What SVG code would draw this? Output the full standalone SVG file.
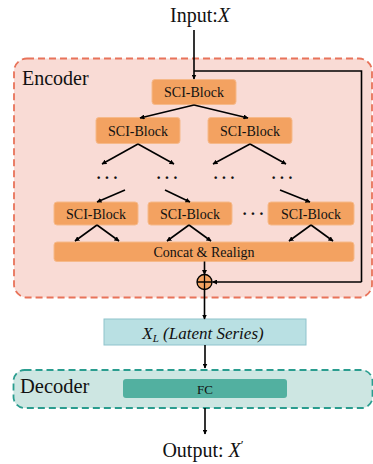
<svg xmlns="http://www.w3.org/2000/svg" width="373" height="464" viewBox="0 0 373 464">
<style>
  text { font-family: "Liberation Serif", "Times New Roman", serif; fill: #111; }
  .blk { fill: #f3a261; stroke: #f6b98a; stroke-width: 1; }
  .blkt { font-size: 14px; text-anchor: middle; }
  .dots { font-size: 16px; font-weight: bold; letter-spacing: 3px; }
  .ln { stroke: #000; stroke-width: 1.6; fill: none; }
  .ar { stroke: #000; stroke-width: 1.6; fill: none; marker-end: url(#ah); }
</style>
<defs>
  <marker id="ah" viewBox="0 0 10 10" refX="9" refY="5" markerWidth="5" markerHeight="5" orient="auto" markerUnits="userSpaceOnUse">
    <path d="M0,0 L10,5 L0,10 z" fill="#000"/>
  </marker>
</defs>
<rect width="373" height="464" fill="#fff"/>

<g id="encoder">
  <rect x="14" y="58.5" width="358" height="239" rx="13" fill="#f9dbd5" stroke="#e8735a" stroke-width="1.8" stroke-dasharray="7,4"/>
  <text x="22" y="85" font-size="20">Encoder</text>
</g>

<g id="input"><text x="200" y="22" font-size="20" text-anchor="middle">Input:<tspan font-style="italic">X</tspan></text></g>

<g id="sci-top"><rect class="blk" x="152" y="79.5" width="84" height="25" rx="3"/><text class="blkt" x="194" y="97">SCI-Block</text></g>
<g id="sci-l1"><rect class="blk" x="96" y="117.5" width="84" height="26" rx="3"/><text class="blkt" x="138" y="135.5">SCI-Block</text></g>
<g id="sci-r1"><rect class="blk" x="208" y="117.5" width="84" height="26" rx="3"/><text class="blkt" x="250" y="135.5">SCI-Block</text></g>

<g id="dots-row">
  <text class="dots" x="96" y="183">···</text>
  <text class="dots" x="156" y="183">···</text>
  <text class="dots" x="213" y="183">···</text>
  <text class="dots" x="271" y="183">···</text>
</g>

<g id="sci-b1"><rect class="blk" x="54" y="202" width="84" height="23" rx="3"/><text class="blkt" x="96" y="218.5">SCI-Block</text></g>
<g id="sci-b2"><rect class="blk" x="148" y="202" width="84" height="23" rx="3"/><text class="blkt" x="190" y="218.5">SCI-Block</text></g>
<g id="dots-mid"><text class="dots" x="242" y="219">···</text></g>
<g id="sci-b3"><rect class="blk" x="268" y="202" width="86" height="23" rx="3"/><text class="blkt" x="311" y="218.5">SCI-Block</text></g>

<g id="concat"><rect class="blk" x="54" y="242" width="300" height="19.5" rx="3"/><text class="blkt" x="204" y="256.5">Concat &amp; Realign</text></g>

<g id="plus">
  <circle cx="204.5" cy="282" r="7.5" fill="#f3a261" stroke="#000" stroke-width="1.3"/>
  <path d="M197,282 H212 M204.5,274.5 V289.5" stroke="#000" stroke-width="1.3"/>
</g>

<g id="latent">
  <rect x="104" y="319" width="202" height="26" fill="#b9e0e3" stroke="#8fc3cc" stroke-width="1"/>
  <text x="203" y="338.5" font-size="17" text-anchor="middle" font-style="italic"><tspan>X</tspan><tspan font-size="11" dy="3">L</tspan><tspan dy="-3"> (Latent Series)</tspan></text>
</g>

<g id="decoder">
  <rect x="13.5" y="370" width="359" height="38" rx="11" fill="#cde6e2" stroke="#2a9d8f" stroke-width="1.8" stroke-dasharray="7,4"/>
  <text x="20" y="392.5" font-size="20.5">Decoder</text>
</g>
<g id="fc"><rect x="123" y="379" width="164" height="19" rx="3" fill="#52b0a0"/><text x="205" y="393.5" font-size="13" text-anchor="middle">FC</text></g>

<g id="output"><text x="203" y="457" font-size="20" text-anchor="middle">Output: <tspan font-style="italic">X</tspan><tspan font-size="13" dy="-8">′</tspan></text></g>

<g id="connectors">
  <path class="ar" d="M194,30 V79"/>
  <path class="ln" d="M194,71 H361.5 V282"/>
  <path class="ar" d="M361.5,282 H212.5"/>
  <path class="ar" d="M194,105 L140,118"/>
  <path class="ar" d="M194,105 L248,118"/>
  <path class="ar" d="M138,144 L102,164"/>
  <path class="ar" d="M138,144 L174,164"/>
  <path class="ar" d="M250,144 L213,164"/>
  <path class="ar" d="M250,144 L286,164"/>
  <path class="ar" d="M125,190 L97,202"/>
  <path class="ar" d="M165,190 L190,202"/>
  <path class="ar" d="M280,190 L310,202"/>
  <path class="ar" d="M97,225 L75,241"/>
  <path class="ar" d="M97,225 L119,241"/>
  <path class="ar" d="M189,225 L167,241"/>
  <path class="ar" d="M189,225 L211,241"/>
  <path class="ar" d="M311,225 L289,241"/>
  <path class="ar" d="M311,225 L333,241"/>
  <path class="ar" d="M204.5,261.5 V274.5"/>
  <path class="ar" d="M204.5,289.5 V319"/>
  <path class="ar" d="M205,345 V368"/>
  <path class="ar" d="M205,408 V434"/>
</g>
</svg>
